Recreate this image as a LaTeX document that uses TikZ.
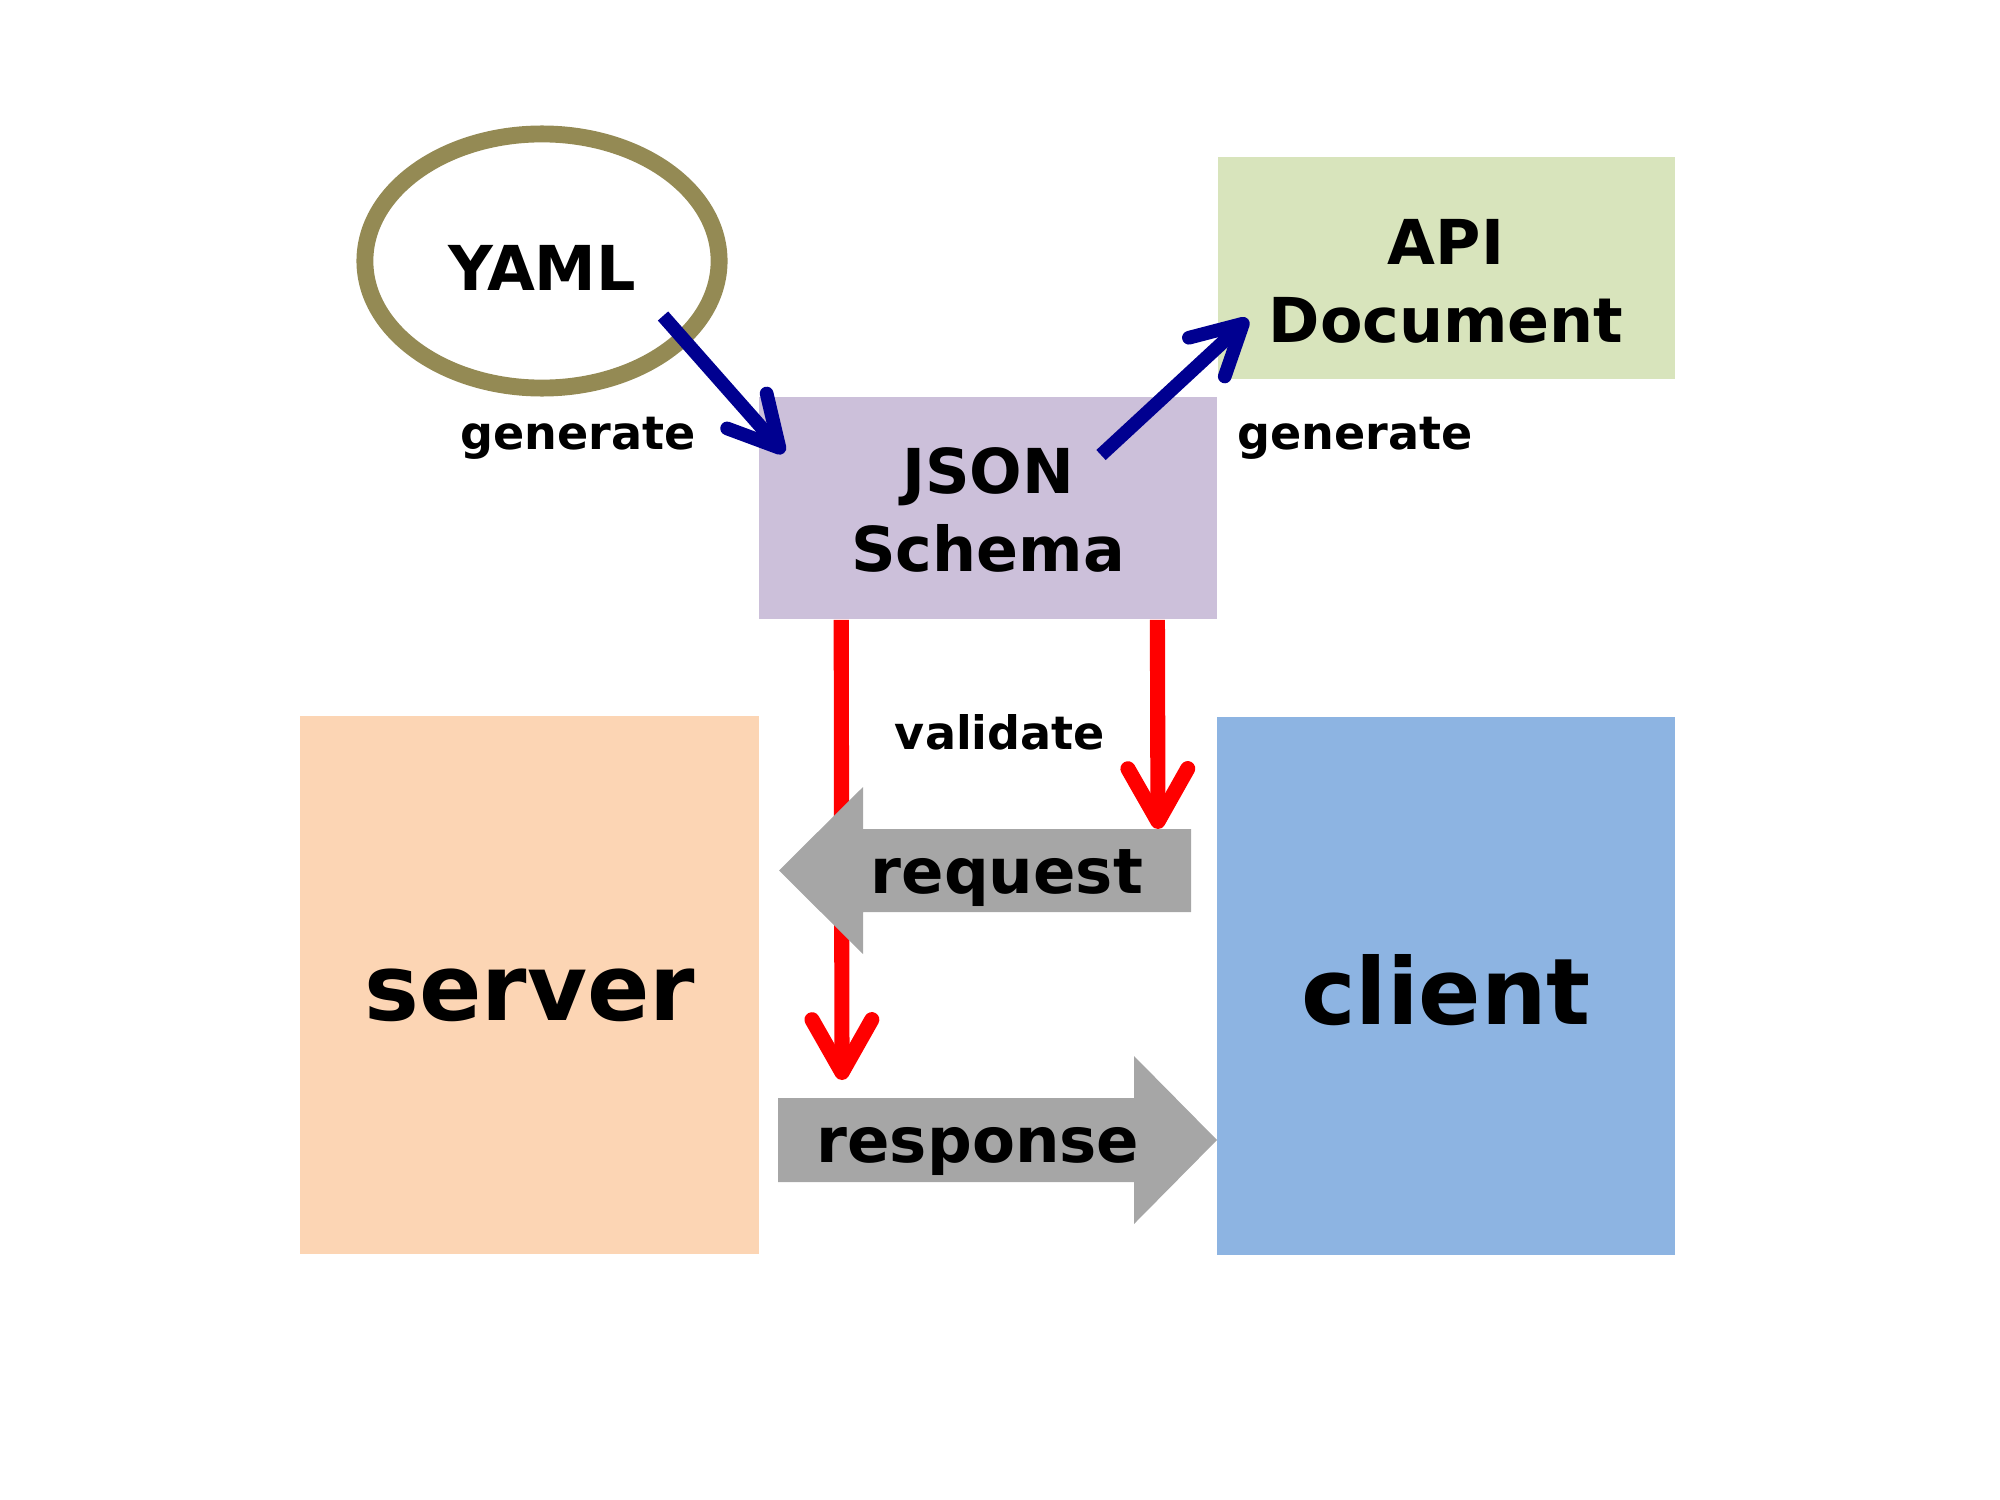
\documentclass[tikz,border=0pt]{standalone}
\usepackage{fontspec}
\setmainfont{DejaVu Sans}
\usetikzlibrary{arrows.meta,shapes.geometric}
\definecolor{yamlcol}{HTML}{948A54}
\definecolor{apicol}{HTML}{D8E4BC}
\definecolor{jsoncol}{HTML}{CCC0DA}
\definecolor{servercol}{HTML}{FCD5B4}
\definecolor{clientcol}{HTML}{8DB4E2}
\definecolor{graycol}{HTML}{A6A6A6}
\definecolor{navycol}{HTML}{000090}
\definecolor{redcol}{HTML}{FF0000}
\begin{document}
\begin{tikzpicture}[x=0.01cm,y=-0.01cm,
  box/.style={rectangle, inner sep=0pt, align=center, font=\bfseries\fontsize{17.6}{22.2}\selectfont},
  bigbox/.style={rectangle, inner sep=0pt, align=center, font=\bfseries\fontsize{26.2}{30}\selectfont},
  lbl/.style={inner sep=0pt, font=\bfseries\fontsize{13.1}{15}\selectfont},
  arrlbl/.style={inner sep=0pt, font=\bfseries\fontsize{17.8}{20}\selectfont},
  bluearrow/.style={draw=navycol, line width=3.9pt, -{Straight Barb[length=14pt,width=15pt,round]}},
  redarrow/.style={draw=redcol, line width=4.3pt, -{Straight Barb[length=15pt,width=17pt,round]}},
  grayarrow/.style={fill=graycol, draw=none}]
\useasboundingbox (0,0) rectangle (2000,1500);
% nodes
\node[ellipse, draw=yamlcol, line width=4.8pt, fill=white, minimum width=3.54cm, minimum height=2.54cm, inner sep=0pt] (yaml) at (542,261) {};
\node[inner sep=0pt, font=\bfseries\fontsize{17.6}{20}\selectfont] (yamltxt) at (542,268) {YAML};
\node[box, fill=apicol, minimum width=4.57cm, minimum height=2.22cm] (api) at (1446.5,268) {};
\node[box] (apitxt) at (1446,281) {API\\Document};
\node[box, fill=jsoncol, minimum width=4.58cm, minimum height=2.22cm] (json) at (988,508) {};
\node[box] (jsontxt) at (988,510) {JSON\\Schema};
\node[bigbox, fill=servercol, minimum width=4.59cm, minimum height=5.38cm] (server) at (529.5,985) {};
\node[bigbox] (servertxt) at (530,995) {server};
\node[bigbox, fill=clientcol, minimum width=4.58cm, minimum height=5.38cm] (client) at (1446,986) {};
\node[bigbox] (clienttxt) at (1446,990) {client};
% red validate arrows
\coordinate (v1s) at ([xshift=0.83cm]json.south west);
\coordinate (v1e) at (842,1080);
\coordinate (v2s) at ([xshift=3.99cm]json.south west);
\coordinate (v2e) at (1158,829);
\draw[redarrow] (v1s) -- (v1e);
\draw[redarrow] (v2s) -- (v2e);
% gray block arrows
\fill[grayarrow] (779,870.5) -- (863,787) -- (863,829) -- (1191,829) -- (1191,912) -- (863,912) -- (863,954) -- cycle;
\fill[grayarrow] (778,1098) -- (1134,1098) -- (1134,1056) -- (1217,1140) -- (1134,1224) -- (1134,1182) -- (778,1182) -- cycle;
\node[arrlbl] (request) at (1007,878) {request};
\node[arrlbl] (response) at (978,1151) {response};
% blue generate arrows
\coordinate (g1s) at (663,316);
\coordinate (g1e) at (784,453);
\coordinate (g2s) at (1101,455);
\coordinate (g2e) at (1248,319);
\draw[bluearrow] (g1s) -- (g1e);
\draw[bluearrow] (g2s) -- (g2e);
% labels
\node[lbl] (gen1) at (578,438) {generate};
\node[lbl] (gen2) at (1355,438) {generate};
\node[lbl] (valid) at (1000,732) {validate};
\end{tikzpicture}
\end{document}
